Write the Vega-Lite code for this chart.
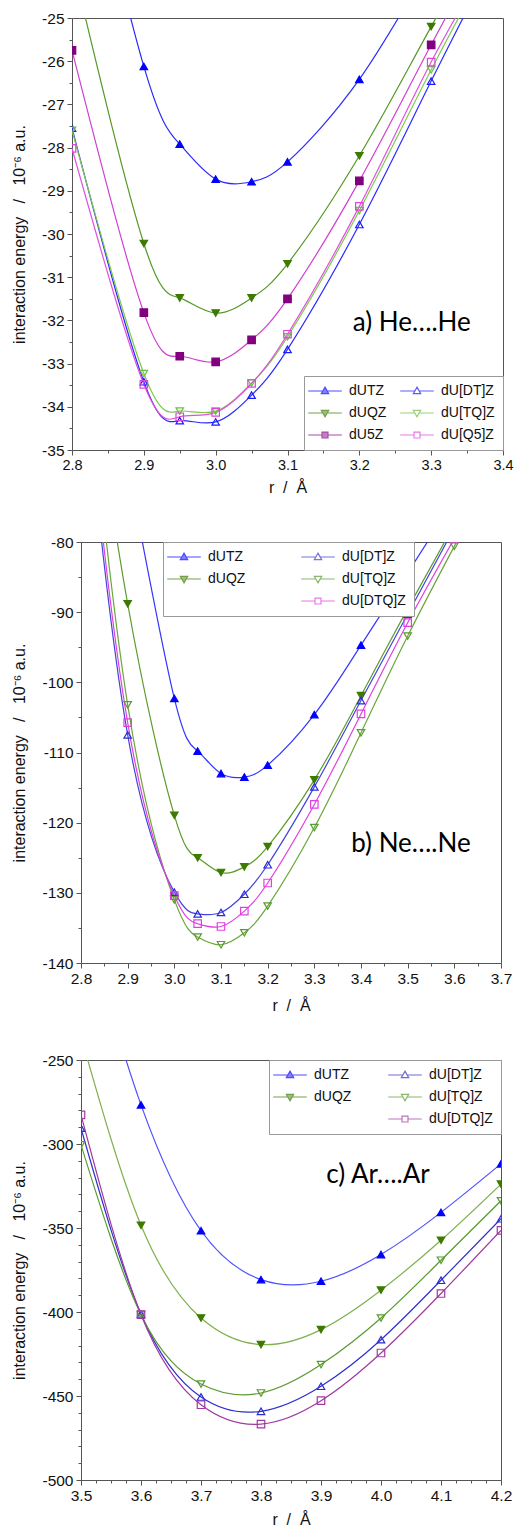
{
  "$schema": "https://vega.github.io/schema/vega-lite/v6.json",
  "padding": {"left": 10, "top": 10, "right": 0, "bottom": 0},
  "background": "white",
  "datasets": {
    "he": [
      {"s": "dUTZ", "r": 2.8, "E": -19.5}, {"s": "dUTZ", "r": 2.9, "E": -26.12}, {"s": "dUTZ", "r": 2.95, "E": -27.92}, {"s": "dUTZ", "r": 3.0, "E": -28.73}, {"s": "dUTZ", "r": 3.05, "E": -28.79}, {"s": "dUTZ", "r": 3.1, "E": -28.33}, {"s": "dUTZ", "r": 3.2, "E": -26.42}, {"s": "dUTZ", "r": 3.3, "E": -23.7}, {"s": "dUTZ", "r": 3.4, "E": -21.0},
      {"s": "dUQZ", "r": 2.8, "E": -23.7}, {"s": "dUQZ", "r": 2.9, "E": -30.22}, {"s": "dUQZ", "r": 2.95, "E": -31.48}, {"s": "dUQZ", "r": 3.0, "E": -31.83}, {"s": "dUQZ", "r": 3.05, "E": -31.48}, {"s": "dUQZ", "r": 3.1, "E": -30.69}, {"s": "dUQZ", "r": 3.2, "E": -28.19}, {"s": "dUQZ", "r": 3.3, "E": -25.2}, {"s": "dUQZ", "r": 3.4, "E": -22.3},
      {"s": "dU5Z", "r": 2.8, "E": -25.75}, {"s": "dU5Z", "r": 2.9, "E": -31.82}, {"s": "dU5Z", "r": 2.95, "E": -32.83}, {"s": "dU5Z", "r": 3.0, "E": -32.96}, {"s": "dU5Z", "r": 3.05, "E": -32.45}, {"s": "dU5Z", "r": 3.1, "E": -31.5}, {"s": "dU5Z", "r": 3.2, "E": -28.77}, {"s": "dU5Z", "r": 3.3, "E": -25.62}, {"s": "dU5Z", "r": 3.4, "E": -22.6},
      {"s": "dU[DT]Z", "r": 2.8, "E": -27.55}, {"s": "dU[DT]Z", "r": 2.9, "E": -33.42}, {"s": "dU[DT]Z", "r": 2.95, "E": -34.32}, {"s": "dU[DT]Z", "r": 3.0, "E": -34.35}, {"s": "dU[DT]Z", "r": 3.05, "E": -33.73}, {"s": "dU[DT]Z", "r": 3.1, "E": -32.67}, {"s": "dU[DT]Z", "r": 3.2, "E": -29.78}, {"s": "dU[DT]Z", "r": 3.3, "E": -26.46}, {"s": "dU[DT]Z", "r": 3.4, "E": -23.2},
      {"s": "dU[TQ]Z", "r": 2.8, "E": -27.6}, {"s": "dU[TQ]Z", "r": 2.9, "E": -33.23}, {"s": "dU[TQ]Z", "r": 2.95, "E": -34.1}, {"s": "dU[TQ]Z", "r": 3.0, "E": -34.1}, {"s": "dU[TQ]Z", "r": 3.05, "E": -33.45}, {"s": "dU[TQ]Z", "r": 3.1, "E": -32.38}, {"s": "dU[TQ]Z", "r": 3.2, "E": -29.46}, {"s": "dU[TQ]Z", "r": 3.3, "E": -26.2}, {"s": "dU[TQ]Z", "r": 3.4, "E": -23.1},
      {"s": "dU[Q5]Z", "r": 2.8, "E": -28.02}, {"s": "dU[Q5]Z", "r": 2.9, "E": -33.48}, {"s": "dU[Q5]Z", "r": 2.95, "E": -34.23}, {"s": "dU[Q5]Z", "r": 3.0, "E": -34.13}, {"s": "dU[Q5]Z", "r": 3.05, "E": -33.46}, {"s": "dU[Q5]Z", "r": 3.1, "E": -32.32}, {"s": "dU[Q5]Z", "r": 3.2, "E": -29.36}, {"s": "dU[Q5]Z", "r": 3.3, "E": -26.02}, {"s": "dU[Q5]Z", "r": 3.4, "E": -23.1}
    ],
    "ne": [
      {"s": "dUTZ", "r": 2.9, "E": -69}, {"s": "dUTZ", "r": 3.0, "E": -102.3}, {"s": "dUTZ", "r": 3.05, "E": -109.8}, {"s": "dUTZ", "r": 3.1, "E": -113.0}, {"s": "dUTZ", "r": 3.15, "E": -113.5}, {"s": "dUTZ", "r": 3.2, "E": -111.8}, {"s": "dUTZ", "r": 3.3, "E": -104.6}, {"s": "dUTZ", "r": 3.4, "E": -94.7}, {"s": "dUTZ", "r": 3.5, "E": -84.4}, {"s": "dUTZ", "r": 3.6, "E": -74},
      {"s": "dUQZ", "r": 2.8, "E": -45}, {"s": "dUQZ", "r": 2.9, "E": -88.8}, {"s": "dUQZ", "r": 3.0, "E": -118.95}, {"s": "dUQZ", "r": 3.05, "E": -125.0}, {"s": "dUQZ", "r": 3.1, "E": -127.1}, {"s": "dUQZ", "r": 3.15, "E": -126.3}, {"s": "dUQZ", "r": 3.2, "E": -123.4}, {"s": "dUQZ", "r": 3.3, "E": -113.9}, {"s": "dUQZ", "r": 3.4, "E": -101.9}, {"s": "dUQZ", "r": 3.5, "E": -89.5}, {"s": "dUQZ", "r": 3.6, "E": -77.5},
      {"s": "dU[DT]Z", "r": 2.8, "E": -52}, {"s": "dU[DT]Z", "r": 2.9, "E": -107.5}, {"s": "dU[DT]Z", "r": 3.0, "E": -129.9}, {"s": "dU[DT]Z", "r": 3.05, "E": -133.0}, {"s": "dU[DT]Z", "r": 3.1, "E": -132.8}, {"s": "dU[DT]Z", "r": 3.15, "E": -130.2}, {"s": "dU[DT]Z", "r": 3.2, "E": -126.0}, {"s": "dU[DT]Z", "r": 3.3, "E": -114.9}, {"s": "dU[DT]Z", "r": 3.4, "E": -102.6}, {"s": "dU[DT]Z", "r": 3.5, "E": -90.3}, {"s": "dU[DT]Z", "r": 3.6, "E": -78.0},
      {"s": "dU[TQ]Z", "r": 2.8, "E": -45}, {"s": "dU[TQ]Z", "r": 2.9, "E": -103.2}, {"s": "dU[TQ]Z", "r": 3.0, "E": -131.0}, {"s": "dU[TQ]Z", "r": 3.05, "E": -136.3}, {"s": "dU[TQ]Z", "r": 3.1, "E": -137.4}, {"s": "dU[TQ]Z", "r": 3.15, "E": -135.7}, {"s": "dU[TQ]Z", "r": 3.2, "E": -131.9}, {"s": "dU[TQ]Z", "r": 3.3, "E": -120.7}, {"s": "dU[TQ]Z", "r": 3.4, "E": -107.2}, {"s": "dU[TQ]Z", "r": 3.5, "E": -93.4}, {"s": "dU[TQ]Z", "r": 3.6, "E": -80.6}, {"s": "dU[TQ]Z", "r": 3.7, "E": -68},
      {"s": "dU[DTQ]Z", "r": 2.8, "E": -50}, {"s": "dU[DTQ]Z", "r": 2.9, "E": -105.75}, {"s": "dU[DTQ]Z", "r": 3.0, "E": -130.4}, {"s": "dU[DTQ]Z", "r": 3.05, "E": -134.4}, {"s": "dU[DTQ]Z", "r": 3.1, "E": -134.8}, {"s": "dU[DTQ]Z", "r": 3.15, "E": -132.6}, {"s": "dU[DTQ]Z", "r": 3.2, "E": -128.6}, {"s": "dU[DTQ]Z", "r": 3.3, "E": -117.4}, {"s": "dU[DTQ]Z", "r": 3.4, "E": -104.5}, {"s": "dU[DTQ]Z", "r": 3.5, "E": -91.5}, {"s": "dU[DTQ]Z", "r": 3.6, "E": -79.5}
    ],
    "ar": [
      {"s": "dUTZ", "r": 3.5, "E": -160}, {"s": "dUTZ", "r": 3.6, "E": -276.7}, {"s": "dUTZ", "r": 3.7, "E": -351.6}, {"s": "dUTZ", "r": 3.8, "E": -380.7}, {"s": "dUTZ", "r": 3.9, "E": -381.7}, {"s": "dUTZ", "r": 4.0, "E": -365.8}, {"s": "dUTZ", "r": 4.1, "E": -340.7}, {"s": "dUTZ", "r": 4.2, "E": -311.8},
      {"s": "dUQZ", "r": 3.5, "E": -236}, {"s": "dUQZ", "r": 3.6, "E": -348.4}, {"s": "dUQZ", "r": 3.7, "E": -403.6}, {"s": "dUQZ", "r": 3.8, "E": -419.4}, {"s": "dUQZ", "r": 3.9, "E": -410.5}, {"s": "dUQZ", "r": 4.0, "E": -387.0}, {"s": "dUQZ", "r": 4.1, "E": -357.3}, {"s": "dUQZ", "r": 4.2, "E": -323.9},
      {"s": "dU[DT]Z", "r": 3.5, "E": -290.6}, {"s": "dU[DT]Z", "r": 3.6, "E": -401.2}, {"s": "dU[DT]Z", "r": 3.7, "E": -450.6}, {"s": "dU[DT]Z", "r": 3.8, "E": -459.1}, {"s": "dU[DT]Z", "r": 3.9, "E": -444.2}, {"s": "dU[DT]Z", "r": 4.0, "E": -416.5}, {"s": "dU[DT]Z", "r": 4.1, "E": -381.1}, {"s": "dU[DT]Z", "r": 4.2, "E": -344.5},
      {"s": "dU[TQ]Z", "r": 3.5, "E": -300.5}, {"s": "dU[TQ]Z", "r": 3.6, "E": -401.6}, {"s": "dU[TQ]Z", "r": 3.7, "E": -442.9}, {"s": "dU[TQ]Z", "r": 3.8, "E": -448.2}, {"s": "dU[TQ]Z", "r": 3.9, "E": -431.3}, {"s": "dU[TQ]Z", "r": 4.0, "E": -403.6}, {"s": "dU[TQ]Z", "r": 4.1, "E": -369.2}, {"s": "dU[TQ]Z", "r": 4.2, "E": -333.8},
      {"s": "dU[DTQ]Z", "r": 3.5, "E": -282.7}, {"s": "dU[DTQ]Z", "r": 3.6, "E": -401.6}, {"s": "dU[DTQ]Z", "r": 3.7, "E": -455.2}, {"s": "dU[DTQ]Z", "r": 3.8, "E": -466.7}, {"s": "dU[DTQ]Z", "r": 3.9, "E": -452.8}, {"s": "dU[DTQ]Z", "r": 4.0, "E": -424.4}, {"s": "dU[DTQ]Z", "r": 4.1, "E": -389.0}, {"s": "dU[DTQ]Z", "r": 4.2, "E": -351.4}
    ],
    "labA": [{"r": 3.273, "E": -32.05, "t": "a) He….He"}],
    "labB": [{"r": 3.507, "E": -123.0, "t": "b) Ne….Ne"}],
    "labC": [{"r": 3.995, "E": -318.5, "t": "c) Ar….Ar"}]
  },
  "spacing": 38,
  "resolve": {"scale": {"color": "independent", "fill": "independent", "stroke": "independent", "shape": "independent"}},
  "vconcat": [
    {
      "spacing": 0,
      "resolve": {"scale": {"color": "independent", "fill": "independent", "stroke": "independent", "shape": "independent"}},
      "hconcat": [
        {"width": 1, "height": 1, "data": {"values": []}, "mark": "point", "view": {"stroke": null}},
        {
          "width": 431,
          "height": 432,
          "resolve": {"axis": {"x": "independent", "y": "independent"}, "scale": {"shape": "independent", "fill": "independent", "stroke": "independent"}},
          "layer": [
            {
              "data": {"name": "he"},
              "mark": {"type": "line", "interpolate": "natural", "clip": true, "strokeWidth": 1.2},
              "encoding": {
                "x": {"field": "r", "type": "quantitative", "scale": {"domain": [2.8, 3.4], "nice": false, "zero": false}, "axis": {"orient": "bottom", "values": [2.8, 2.9, 3.0, 3.1, 3.2, 3.3, 3.4], "format": ".1f", "labelFontSize": 14.5, "title": "r\u00a0\u00a0/\u00a0\u00a0Å", "titlePadding": 8}},
                "y": {"field": "E", "type": "quantitative", "scale": {"domain": [-35, -25], "nice": false, "zero": false}, "axis": {"orient": "left", "values": [-35, -34, -33, -32, -31, -30, -29, -28, -27, -26, -25], "labelExpr": "'' + datum.value", "title": "interaction energy\u00a0\u00a0\u00a0/\u00a0\u00a0\u00a010⁻⁶ a.u.", "titlePadding": 14}},
                "color": {"field": "s", "type": "nominal", "scale": {"domain": ["dUTZ", "dUQZ", "dU5Z", "dU[DT]Z", "dU[TQ]Z", "dU[Q5]Z"], "range": ["#2a2aff", "#559926", "#d040d0", "#2a2aff", "#7ccc4a", "#e050e0"]}, "legend": null}
              }
            },
            {
              "data": {"name": "he"},
              "mark": {"type": "point", "clip": true, "size": 56, "strokeWidth": 1.2, "opacity": 1},
              "encoding": {
                "x": {"field": "r", "type": "quantitative", "scale": {"domain": [2.8, 3.4], "nice": false, "zero": false}, "axis": null},
                "y": {"field": "E", "type": "quantitative", "scale": {"domain": [-35, -25], "nice": false, "zero": false}, "axis": null},
                "shape": {"field": "s", "type": "nominal", "scale": {"domain": ["dUTZ", "dU[DT]Z", "dUQZ", "dU[TQ]Z", "dU5Z", "dU[Q5]Z"], "range": ["triangle-up", "triangle-up", "triangle-down", "triangle-down", "square", "square"]}, "legend": null},
                "fill": {"field": "s", "type": "nominal", "scale": {"domain": ["dU[Q5]Z", "dU5Z", "dU[TQ]Z", "dUQZ", "dU[DT]Z", "dUTZ"], "range": ["transparent", "#800080", "transparent", "#3d7a00", "transparent", "#0000ff"]}, "legend": null},
                "stroke": {"field": "s", "type": "nominal", "scale": {"domain": ["dU[DT]Z", "dUTZ", "dU[TQ]Z", "dUQZ", "dU[Q5]Z", "dU5Z"], "range": ["#1a1aff", "#0000ff", "#6cc040", "#3d7a00", "#dd44dd", "#800080"]}, "legend": null}
              }
            },
            {
              "data": {"name": "he"},
              "transform": [{"filter": "false"}],
              "mark": {"type": "point", "strokeWidth": 1.2},
              "encoding": {
                "shape": {"field": "s", "type": "nominal", "scale": {"domain": ["dUTZ", "dUQZ", "dU5Z", "dU[DT]Z", "dU[TQ]Z", "dU[Q5]Z"], "range": ["M-4.8,0H-0.65M0.65,0H4.8M0,-1.1L1.05,0.75L-1.05,0.75Z", "M-4.8,0H-0.65M0.65,0H4.8M0,1.1L1.05,-0.75L-1.05,-0.75Z", "M-4.8,0H-0.85M0.85,0H4.8M-0.85,-0.85H0.85V0.85H-0.85Z", "M-4.8,0H-0.65M0.65,0H4.8M0,-1.1L1.05,0.75L-1.05,0.75Z", "M-4.8,0H-0.65M0.65,0H4.8M0,1.1L1.05,-0.75L-1.05,-0.75Z", "M-4.8,0H-0.85M0.85,0H4.8M-0.85,-0.85H0.85V0.85H-0.85Z"]},
                  "legend": {"title": null, "orient": "bottom-right", "offset": 0, "columns": 2, "symbolSize": 49, "symbolStrokeWidth": 1.2, "symbolOffset": 6, "labelOffset": 17, "labelFont": "Liberation Sans", "labelFontSize": 14, "labelColor": "#111", "padding": 8, "rowPadding": 8, "columnPadding": 10, "strokeColor": "#999", "fillColor": "white", "cornerRadius": 0}},
                "fill": {"field": "s", "type": "nominal", "scale": {"domain": ["dUTZ", "dUQZ", "dU5Z", "dU[DT]Z", "dU[TQ]Z", "dU[Q5]Z"], "range": ["#0000ff", "#3d7a00", "#800080", "transparent", "transparent", "transparent"]},
                  "legend": {"title": null, "orient": "bottom-right", "offset": 0, "columns": 2, "symbolSize": 49, "symbolStrokeWidth": 1.2, "symbolOffset": 6, "labelOffset": 17, "labelFont": "Liberation Sans", "labelFontSize": 14, "labelColor": "#111", "padding": 8, "rowPadding": 8, "columnPadding": 10, "strokeColor": "#999", "fillColor": "white", "cornerRadius": 0}},
                "stroke": {"field": "s", "type": "nominal", "scale": {"domain": ["dUTZ", "dUQZ", "dU5Z", "dU[DT]Z", "dU[TQ]Z", "dU[Q5]Z"], "range": ["#0000ff", "#3d7a00", "#800080", "#1a1aff", "#6cc040", "#dd44dd"]},
                  "legend": {"title": null, "orient": "bottom-right", "offset": 0, "columns": 2, "symbolSize": 49, "symbolStrokeWidth": 1.2, "symbolOffset": 6, "labelOffset": 17, "labelFont": "Liberation Sans", "labelFontSize": 14, "labelColor": "#111", "padding": 8, "rowPadding": 8, "columnPadding": 10, "strokeColor": "#999", "fillColor": "white", "cornerRadius": 0}}
              }
            },
            {
              "data": {"name": "labA"},
              "mark": {"type": "text", "font": "Lato", "fontSize": 26, "align": "center", "baseline": "middle", "color": "#000"},
              "encoding": {
                "x": {"field": "r", "type": "quantitative", "scale": {"domain": [2.8, 3.4], "nice": false, "zero": false}, "axis": {"orient": "bottom", "values": [2.85, 2.95, 3.05, 3.15, 3.25, 3.35], "labels": false, "domain": false, "tickSize": 3, "title": null}},
                "y": {"field": "E", "type": "quantitative", "scale": {"domain": [-35, -25], "nice": false, "zero": false}, "axis": {"orient": "left", "values": [-34.5, -33.5, -32.5, -31.5, -30.5, -29.5, -28.5, -27.5, -26.5, -25.5], "labels": false, "domain": false, "tickSize": 3, "title": null}},
                "text": {"field": "t"}
              }
            }
          ]
        }
      ]
    },
    {
      "spacing": 0,
      "resolve": {"scale": {"color": "independent", "fill": "independent", "stroke": "independent", "shape": "independent"}},
      "hconcat": [
        {"width": 1, "height": 1, "data": {"values": []}, "mark": "point", "view": {"stroke": null}},
        {
          "width": 420,
          "height": 421,
          "resolve": {"axis": {"x": "independent", "y": "independent"}, "scale": {"shape": "independent", "fill": "independent", "stroke": "independent"}},
          "layer": [
            {
              "data": {"name": "ne"},
              "mark": {"type": "line", "interpolate": "natural", "clip": true, "strokeWidth": 1.2},
              "encoding": {
                "x": {"field": "r", "type": "quantitative", "scale": {"domain": [2.8, 3.7], "nice": false, "zero": false}, "axis": {"orient": "bottom", "values": [2.8, 2.9, 3.0, 3.1, 3.2, 3.3, 3.4, 3.5, 3.6, 3.7], "format": ".1f", "title": "r\u00a0\u00a0/\u00a0\u00a0Å", "titlePadding": 11}},
                "y": {"field": "E", "type": "quantitative", "scale": {"domain": [-140, -80], "nice": false, "zero": false}, "axis": {"orient": "left", "values": [-140, -130, -120, -110, -100, -90, -80], "labelExpr": "'' + datum.value", "title": "interaction energy\u00a0\u00a0\u00a0/\u00a0\u00a0\u00a010⁻⁶ a.u.", "titlePadding": 14}},
                "color": {"field": "s", "type": "nominal", "scale": {"domain": ["dUTZ", "dUQZ", "dU[DT]Z", "dU[TQ]Z", "dU[DTQ]Z"], "range": ["#3535ff", "#5b9b2b", "#4444dd", "#6aa63a", "#e040e0"]}, "legend": null}
              }
            },
            {
              "data": {"name": "ne"},
              "mark": {"type": "point", "clip": true, "size": 56, "strokeWidth": 1.2, "opacity": 1},
              "encoding": {
                "x": {"field": "r", "type": "quantitative", "scale": {"domain": [2.8, 3.7], "nice": false, "zero": false}, "axis": null},
                "y": {"field": "E", "type": "quantitative", "scale": {"domain": [-140, -80], "nice": false, "zero": false}, "axis": null},
                "shape": {"field": "s", "type": "nominal", "scale": {"domain": ["dUTZ", "dU[DT]Z", "dUQZ", "dU[TQ]Z", "dU[DTQ]Z"], "range": ["triangle-up", "triangle-up", "triangle-down", "triangle-down", "square"]}, "legend": null},
                "fill": {"field": "s", "type": "nominal", "scale": {"domain": ["dU[DTQ]Z", "dU[TQ]Z", "dU[DT]Z", "dUQZ", "dUTZ"], "range": ["transparent", "transparent", "transparent", "#3d7a00", "#0000ff"]}, "legend": null},
                "stroke": {"field": "s", "type": "nominal", "scale": {"domain": ["dUQZ", "dUTZ", "dU[TQ]Z", "dU[DT]Z", "dU[DTQ]Z"], "range": ["#3d7a00", "#0000ff", "#5a9a30", "#2a2ad8", "#e040e0"]}, "legend": null}
              }
            },
            {
              "data": {"name": "ne"},
              "transform": [{"filter": "false"}],
              "mark": {"type": "point", "strokeWidth": 1.2},
              "encoding": {
                "shape": {"field": "s", "type": "nominal", "scale": {"domain": ["dUTZ", "dUQZ", "", "dU[DT]Z", "dU[TQ]Z", "dU[DTQ]Z"], "range": ["M-4.8,0H-0.65M0.65,0H4.8M0,-1.1L1.05,0.75L-1.05,0.75Z", "M-4.8,0H-0.65M0.65,0H4.8M0,1.1L1.05,-0.75L-1.05,-0.75Z", "M0,0", "M-4.8,0H-0.65M0.65,0H4.8M0,-1.1L1.05,0.75L-1.05,0.75Z", "M-4.8,0H-0.65M0.65,0H4.8M0,1.1L1.05,-0.75L-1.05,-0.75Z", "M-4.8,0H-0.85M0.85,0H4.8M-0.85,-0.85H0.85V0.85H-0.85Z"]},
                  "legend": {"title": null, "orient": "none", "legendX": 82, "legendY": 0, "columns": 2, "symbolSize": 49, "symbolStrokeWidth": 1.2, "symbolOffset": 6, "labelOffset": 17, "labelFont": "Liberation Sans", "labelFontSize": 14, "labelColor": "#111", "padding": 8, "rowPadding": 8, "columnPadding": 52, "strokeColor": "#999", "fillColor": "white", "cornerRadius": 0}},
                "fill": {"field": "s", "type": "nominal", "scale": {"domain": ["dUTZ", "dUQZ", "", "dU[DT]Z", "dU[TQ]Z", "dU[DTQ]Z"], "range": ["#0000ff", "#3d7a00", "transparent", "transparent", "transparent", "transparent"]},
                  "legend": {"title": null, "orient": "none", "legendX": 82, "legendY": 0, "columns": 2, "symbolSize": 49, "symbolStrokeWidth": 1.2, "symbolOffset": 6, "labelOffset": 17, "labelFont": "Liberation Sans", "labelFontSize": 14, "labelColor": "#111", "padding": 8, "rowPadding": 8, "columnPadding": 52, "strokeColor": "#999", "fillColor": "white", "cornerRadius": 0}},
                "stroke": {"field": "s", "type": "nominal", "scale": {"domain": ["dUTZ", "dUQZ", "", "dU[DT]Z", "dU[TQ]Z", "dU[DTQ]Z"], "range": ["#0000ff", "#3d7a00", "transparent", "#3a3ad8", "#5a9a30", "#e040e0"]},
                  "legend": {"title": null, "orient": "none", "legendX": 82, "legendY": 0, "columns": 2, "symbolSize": 49, "symbolStrokeWidth": 1.2, "symbolOffset": 6, "labelOffset": 17, "labelFont": "Liberation Sans", "labelFontSize": 14, "labelColor": "#111", "padding": 8, "rowPadding": 8, "columnPadding": 52, "strokeColor": "#999", "fillColor": "white", "cornerRadius": 0}}
              }
            },
            {
              "data": {"name": "labB"},
              "mark": {"type": "text", "font": "Lato", "fontSize": 26, "align": "center", "baseline": "middle", "color": "#000"},
              "encoding": {
                "x": {"field": "r", "type": "quantitative", "scale": {"domain": [2.8, 3.7], "nice": false, "zero": false}, "axis": {"orient": "bottom", "values": [2.85, 2.95, 3.05, 3.15, 3.25, 3.35, 3.45, 3.55, 3.65], "labels": false, "domain": false, "tickSize": 3, "title": null}},
                "y": {"field": "E", "type": "quantitative", "scale": {"domain": [-140, -80], "nice": false, "zero": false}, "axis": {"orient": "left", "values": [-135, -125, -115, -105, -95, -85], "labels": false, "domain": false, "tickSize": 3, "title": null}},
                "text": {"field": "t"}
              }
            }
          ]
        }
      ]
    },
    {
      "spacing": 0,
      "resolve": {"scale": {"color": "independent", "fill": "independent", "stroke": "independent", "shape": "independent"}},
      "hconcat": [
        {"width": 1, "height": 1, "data": {"values": []}, "mark": "point", "view": {"stroke": null}},
        {
          "width": 420,
          "height": 420,
          "resolve": {"axis": {"x": "independent", "y": "independent"}, "scale": {"shape": "independent", "fill": "independent", "stroke": "independent"}},
          "layer": [
            {
              "data": {"name": "ar"},
              "mark": {"type": "line", "interpolate": "natural", "clip": true, "strokeWidth": 1.2},
              "encoding": {
                "x": {"field": "r", "type": "quantitative", "scale": {"domain": [3.5, 4.2], "nice": false, "zero": false}, "axis": {"orient": "bottom", "values": [3.5, 3.6, 3.7, 3.8, 3.9, 4.0, 4.1, 4.2], "format": ".1f", "title": "r\u00a0\u00a0/\u00a0\u00a0Å", "titlePadding": 8}},
                "y": {"field": "E", "type": "quantitative", "scale": {"domain": [-500, -250], "nice": false, "zero": false}, "axis": {"orient": "left", "values": [-500, -450, -400, -350, -300, -250], "labelExpr": "'' + datum.value", "title": "interaction energy\u00a0\u00a0\u00a0/\u00a0\u00a0\u00a010⁻⁶ a.u.", "titlePadding": 14}},
                "color": {"field": "s", "type": "nominal", "scale": {"domain": ["dUTZ", "dUQZ", "dU[DT]Z", "dU[TQ]Z", "dU[DTQ]Z"], "range": ["#5050ff", "#80b050", "#3030cc", "#5a9a30", "#a03aa0"]}, "legend": null}
              }
            },
            {
              "data": {"name": "ar"},
              "mark": {"type": "point", "clip": true, "size": 56, "strokeWidth": 1.2, "opacity": 1},
              "encoding": {
                "x": {"field": "r", "type": "quantitative", "scale": {"domain": [3.5, 4.2], "nice": false, "zero": false}, "axis": null},
                "y": {"field": "E", "type": "quantitative", "scale": {"domain": [-500, -250], "nice": false, "zero": false}, "axis": null},
                "shape": {"field": "s", "type": "nominal", "scale": {"domain": ["dUTZ", "dU[DT]Z", "dUQZ", "dU[TQ]Z", "dU[DTQ]Z"], "range": ["triangle-up", "triangle-up", "triangle-down", "triangle-down", "square"]}, "legend": null},
                "fill": {"field": "s", "type": "nominal", "scale": {"domain": ["dU[DTQ]Z", "dU[TQ]Z", "dU[DT]Z", "dUQZ", "dUTZ"], "range": ["transparent", "transparent", "transparent", "#3d7a00", "#0000ff"]}, "legend": null},
                "stroke": {"field": "s", "type": "nominal", "scale": {"domain": ["dUQZ", "dUTZ", "dU[TQ]Z", "dU[DT]Z", "dU[DTQ]Z"], "range": ["#3d7a00", "#0000ff", "#5a9a30", "#2a2ad0", "#a03aa0"]}, "legend": null}
              }
            },
            {
              "data": {"name": "ar"},
              "transform": [{"filter": "false"}],
              "mark": {"type": "point", "strokeWidth": 1.2},
              "encoding": {
                "shape": {"field": "s", "type": "nominal", "scale": {"domain": ["dUTZ", "dUQZ", "", "dU[DT]Z", "dU[TQ]Z", "dU[DTQ]Z"], "range": ["M-4.8,0H-0.65M0.65,0H4.8M0,-1.1L1.05,0.75L-1.05,0.75Z", "M-4.8,0H-0.65M0.65,0H4.8M0,1.1L1.05,-0.75L-1.05,-0.75Z", "M0,0", "M-4.8,0H-0.65M0.65,0H4.8M0,-1.1L1.05,0.75L-1.05,0.75Z", "M-4.8,0H-0.65M0.65,0H4.8M0,1.1L1.05,-0.75L-1.05,-0.75Z", "M-4.8,0H-0.85M0.85,0H4.8M-0.85,-0.85H0.85V0.85H-0.85Z"]},
                  "legend": {"title": null, "orient": "top-right", "offset": 0, "columns": 2, "symbolSize": 49, "symbolStrokeWidth": 1.2, "symbolOffset": 6, "labelOffset": 17, "labelFont": "Liberation Sans", "labelFontSize": 14, "labelColor": "#111", "padding": 8, "rowPadding": 8, "columnPadding": 33, "strokeColor": "#999", "fillColor": "white", "cornerRadius": 0}},
                "fill": {"field": "s", "type": "nominal", "scale": {"domain": ["dUTZ", "dUQZ", "", "dU[DT]Z", "dU[TQ]Z", "dU[DTQ]Z"], "range": ["#0000ff", "#3d7a00", "transparent", "transparent", "transparent", "transparent"]},
                  "legend": {"title": null, "orient": "top-right", "offset": 0, "columns": 2, "symbolSize": 49, "symbolStrokeWidth": 1.2, "symbolOffset": 6, "labelOffset": 17, "labelFont": "Liberation Sans", "labelFontSize": 14, "labelColor": "#111", "padding": 8, "rowPadding": 8, "columnPadding": 33, "strokeColor": "#999", "fillColor": "white", "cornerRadius": 0}},
                "stroke": {"field": "s", "type": "nominal", "scale": {"domain": ["dUTZ", "dUQZ", "", "dU[DT]Z", "dU[TQ]Z", "dU[DTQ]Z"], "range": ["#0000ff", "#3d7a00", "transparent", "#3030cc", "#5a9a30", "#a03aa0"]},
                  "legend": {"title": null, "orient": "top-right", "offset": 0, "columns": 2, "symbolSize": 49, "symbolStrokeWidth": 1.2, "symbolOffset": 6, "labelOffset": 17, "labelFont": "Liberation Sans", "labelFontSize": 14, "labelColor": "#111", "padding": 8, "rowPadding": 8, "columnPadding": 33, "strokeColor": "#999", "fillColor": "white", "cornerRadius": 0}}
              }
            },
            {
              "data": {"name": "labC"},
              "mark": {"type": "text", "font": "Lato", "fontSize": 26, "align": "center", "baseline": "middle", "color": "#000"},
              "encoding": {
                "x": {"field": "r", "type": "quantitative", "scale": {"domain": [3.5, 4.2], "nice": false, "zero": false}, "axis": {"orient": "bottom", "values": [3.525, 3.55, 3.575, 3.625, 3.65, 3.675, 3.725, 3.75, 3.775, 3.825, 3.85, 3.875, 3.925, 3.95, 3.975, 4.025, 4.05, 4.075, 4.125, 4.15, 4.175], "labels": false, "domain": false, "tickSize": 3, "title": null}},
                "y": {"field": "E", "type": "quantitative", "scale": {"domain": [-500, -250], "nice": false, "zero": false}, "axis": {"orient": "left", "values": [-490, -480, -470, -460, -440, -430, -420, -410, -390, -380, -370, -360, -340, -330, -320, -310, -290, -280, -270, -260], "labels": false, "domain": false, "tickSize": 3, "title": null}},
                "text": {"field": "t"}
              }
            }
          ]
        }
      ]
    }
  ],
  "config": {
    "font": "Liberation Sans",
    "view": {"stroke": "#555", "strokeWidth": 1},
    "axis": {"labelFont": "Liberation Sans", "labelFontSize": 15.5, "labelColor": "#111", "titleFont": "Liberation Sans", "titleFontSize": 16, "titleFontWeight": "normal", "titleColor": "#111", "domainColor": "#555", "tickColor": "#555", "grid": false, "tickSize": 5, "labelPadding": 3, "labelFlush": false, "labelOverlap": false}
  }
}
